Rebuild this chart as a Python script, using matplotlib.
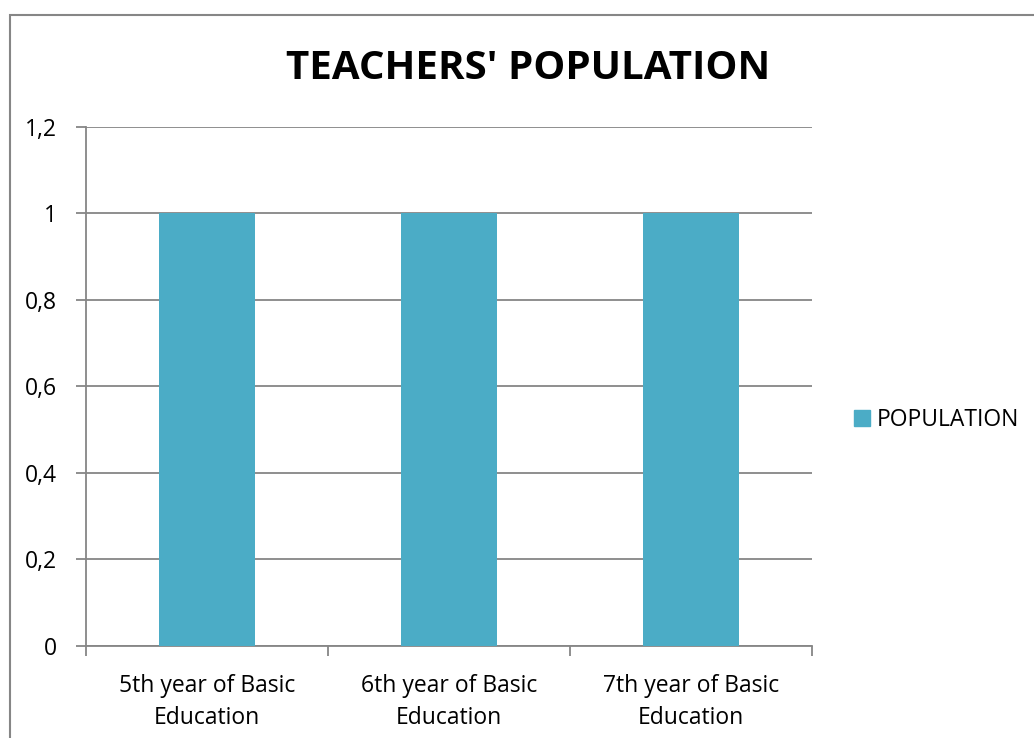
import matplotlib
matplotlib.use("Agg")
import matplotlib.pyplot as plt
from matplotlib.patches import Rectangle, Patch
from matplotlib.ticker import FuncFormatter

categories = ["5th year of Basic\nEducation", "6th year of Basic\nEducation", "7th year of Basic\nEducation"]
population = [1, 1, 1]
y_ticks = [0, 0.2, 0.4, 0.6, 0.8, 1.0, 1.2]

plt.rcParams['font.family'] = ['Open Sans', 'DejaVu Sans']

fig = plt.figure(figsize=(10.34, 7.38), dpi=100)
ax = fig.add_axes([0.0832, 0.1247, 0.7021, 0.7033])

grid_col = '#868686'
x = range(len(categories))
ax.bar(x, population, width=0.4, color='#4BACC6', zorder=3)

ax.set_xlim(-0.5, len(categories) - 0.5)
ax.set_ylim(0, 1.2)
ax.set_yticks(y_ticks)
ax.yaxis.set_major_formatter(FuncFormatter(lambda v, p: f"{v:g}".replace('.', ',')))
ax.yaxis.grid(True, color=grid_col, linewidth=1.3, zorder=0)

# category boundaries get the tick marks, labels sit at the centres
ax.set_xticks([i - 0.5 for i in range(len(categories) + 1)])
ax.set_xticklabels([])
ax.set_xticks(list(x), minor=True)
ax.set_xticklabels(categories, minor=True, fontsize=16.5, linespacing=1.45)
ax.tick_params(axis='x', which='minor', length=0, pad=20)
ax.tick_params(axis='x', which='major', length=7, width=1.3, color=grid_col)
ax.tick_params(axis='y', length=7, width=1.3, color=grid_col, labelsize=16.5, pad=14)

for s in ['top', 'right']:
    ax.spines[s].set_visible(False)
for s in ['left', 'bottom']:
    ax.spines[s].set_color(grid_col)
    ax.spines[s].set_linewidth(1.3)

fig.text(0.511, 0.907, "TEACHERS' POPULATION", ha='center', va='center',
         fontsize=29, fontweight='bold')

fig.legend(handles=[Patch(color='#4BACC6', label='POPULATION')],
           loc='center left', bbox_to_anchor=(0.806, 0.431), frameon=False,
           fontsize=16.5, handlelength=0.7, handleheight=0.7, handletextpad=0.3)

fig.patches.append(Rectangle((0.0097, -0.1), 1.2, 1.0797, transform=fig.transFigure,
                             fill=False, edgecolor=grid_col, linewidth=1.5))

fig.savefig('out.png', dpi=100)
